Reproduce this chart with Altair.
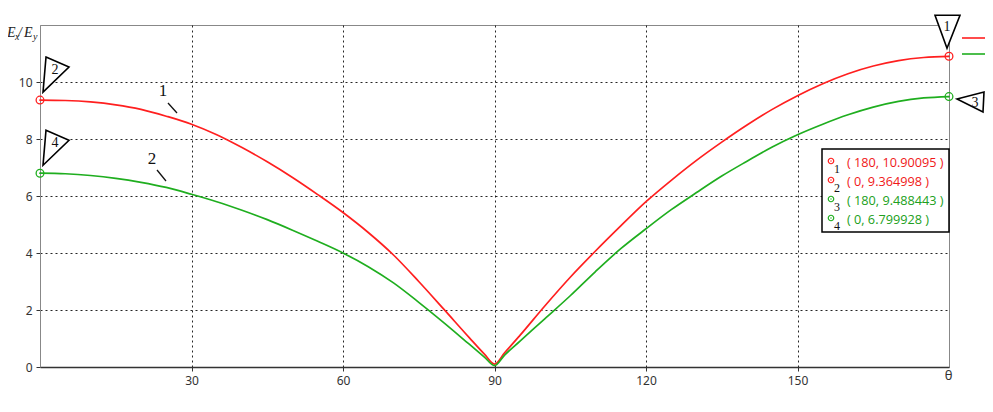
import altair as alt
import pandas as pd

# ---------------- data ----------------
theta_red = [0, 5, 10, 15, 20, 25, 30, 35, 40, 45, 50, 55, 60, 65, 70, 75, 80, 85, 88, 90,
             92, 95, 100, 105, 110, 115, 120, 125, 130, 135, 140, 145, 150, 155, 160, 165, 170, 175, 180]
red = [9.364998, 9.35, 9.30, 9.20, 9.04, 8.80, 8.52, 8.15, 7.70, 7.20, 6.65, 6.05, 5.42, 4.72, 3.93, 3.0, 2.02, 1.03, 0.45, 0.1,
       0.5, 1.1, 2.15, 3.15, 4.07, 4.95, 5.8, 6.55, 7.25, 7.89, 8.49, 9.04, 9.52, 9.94, 10.29, 10.56, 10.75, 10.86, 10.90095]

theta_green = [0, 5, 10, 15, 20, 25, 30, 35, 40, 45, 50, 55, 60, 65, 70, 75, 80, 85, 88, 90,
               92, 95, 100, 105, 110, 115, 120, 125, 130, 135, 140, 145, 150, 155, 160, 165, 170, 175, 180]
green = [6.799928, 6.78, 6.72, 6.62, 6.48, 6.30, 6.06, 5.80, 5.50, 5.17, 4.80, 4.41, 4.0, 3.52, 2.95, 2.27, 1.55, 0.8, 0.35, 0.05,
         0.42, 0.9, 1.7, 2.5, 3.35, 4.15, 4.85, 5.52, 6.12, 6.70, 7.22, 7.72, 8.15, 8.52, 8.85, 9.12, 9.32, 9.44, 9.488443]

series_names = ["1", "2"]
x_ticks = [30, 60, 90, 120, 150]
y_ticks = [0, 2, 4, 6, 8, 10]
box_labels = ["( 180, 10.90095 )", "( 0, 9.364998 )", "( 180, 9.488443 )", "( 0, 6.799928 )"]
box_series = ["1", "1", "2", "2"]
box_numbers = ["1", "2", "3", "4"]

RED = "#ff1f1f"
GREEN = "#1fae1f"
RED_TXT = "#f01818"
GREEN_TXT = "#20a020"

# ---------------- tables ----------------
df_lines = pd.concat([
    pd.DataFrame({"theta": theta_red, "value": red, "series": "1"}),
    pd.DataFrame({"theta": theta_green, "value": green, "series": "2"}),
], ignore_index=True)

df_ends = pd.DataFrame({
    "theta": [theta_red[-1], theta_red[0], theta_green[-1], theta_green[0]],
    "value": [red[-1], red[0], green[-1], green[0]],
    "series": ["1", "1", "2", "2"],
})

color_scale = alt.Scale(domain=series_names, range=[RED, GREEN])

x_enc = alt.X("theta:Q", scale=alt.Scale(domain=[0, 180], nice=False, zero=False),
              axis=alt.Axis(values=x_ticks, grid=True, gridDash=[2, 3], gridColor="#000", gridOpacity=0.85,
                            tickSize=4, tickColor="#333", domainColor="#333", domainWidth=1.5,
                            labelFont="Noto Sans", labelFontSize=12, labelColor="#333", labelPadding=4,
                            title="θ", titleX=908, titleY=8, titleAlign="center", titleBaseline="middle",
                            titleFont="Noto Sans", titleFontSize=13, titleFontWeight="normal", titleColor="#333"))
y_enc = alt.Y("value:Q", scale=alt.Scale(domain=[0, 12], nice=False),
              axis=alt.Axis(values=y_ticks, grid=True, gridDash=[2, 3], gridColor="#000", gridOpacity=0.85,
                            tickSize=4, tickColor="#333", domainColor="#888", domainWidth=1,
                            labelFont="Noto Sans", labelFontSize=12, labelColor="#333", labelPadding=4,
                            title=None))

lines = alt.Chart(df_lines).mark_line(strokeWidth=1.7, interpolate="monotone").encode(
    x=x_enc, y=y_enc,
    color=alt.Color("series:N", scale=color_scale,
                    legend=alt.Legend(orient="none", legendX=928, legendY=7, title=None,
                                      labelExpr="''", labelFontSize=6, padding=0,
                                      symbolType="M -2.4 0 L 2.4 0", symbolSize=100,
                                      symbolStrokeWidth=1.6, rowPadding=6)),
    detail="series:N",
)

ends = alt.Chart(df_ends).mark_point(shape="circle", filled=False, size=60, strokeWidth=1.3, opacity=1).encode(
    x="theta:Q", y="value:Q", color=alt.Color("series:N", scale=color_scale, legend=None))
ends_dot = alt.Chart(df_ends).mark_point(shape="circle", filled=True, size=3, opacity=1).encode(
    x="theta:Q", y="value:Q", color=alt.Color("series:N", scale=color_scale, legend=None))

# flags (triangular callouts anchored at the marked points)
flag_left = "M 6 -43 L 29 -33 L 3 -8 Z"
flag_top = "M -14 -41 L 11 -41 L -2 -8 Z"
flag_right = "M 8 2.5 L 35 -4.5 L 34 15.5 Z"
flag_defs = [
    # (index into df_ends, path, label, dx, dy)
    (0, flag_top, "1", -2, -29),
    (1, flag_left, "2", 15, -30),
    (2, flag_right, "3", 26, 6),
    (3, flag_left, "4", 15, -30),
]
flag_layers = []
for idx, path, lab, dx, dy in flag_defs:
    row = df_ends.iloc[[idx]].assign(label=lab)
    flag_layers.append(
        alt.Chart(row).mark_point(shape=path, size=4, filled=True, fill="white", stroke="black",
                                  strokeWidth=1.6, opacity=1, fillOpacity=1).encode(x="theta:Q", y="value:Q"))
    flag_layers.append(
        alt.Chart(row).mark_text(font="Liberation Serif", fontSize=14, color="#111", dx=dx, dy=dy,
                                 baseline="middle", align="center").encode(x="theta:Q", y="value:Q", text="label:N"))

one = pd.DataFrame({"k": [0]})

def txt(s, x, y, **kw):
    return alt.Chart(one).mark_text(text=s, **kw).encode(x=alt.value(x), y=alt.value(y))

def seg(x1, y1, x2, y2, color="#111", w=1.3):
    return alt.Chart(one).mark_rule(color=color, strokeWidth=w).encode(
        x=alt.value(x1), y=alt.value(y1), x2=alt.value(x2), y2=alt.value(y2))

# y axis title E_x/E_y
ttl_kw = dict(font="Liberation Serif", fontStyle="italic", color="#222", align="left", baseline="alphabetic")
ytitle = [
    txt("E", -33, 12, fontSize=14, **ttl_kw),
    txt("x", -25, 15, fontSize=10, **ttl_kw),
    txt("/", -22, 12, fontSize=14, **ttl_kw),
    txt("E", -16, 12, fontSize=14, **ttl_kw),
    txt("y", -7, 15, fontSize=10, **ttl_kw),
]

# curve labels
curve_lbls = [
    txt("1", 123, 66, font="Liberation Serif", fontSize=17, color="#111", align="center", baseline="middle"),
    seg(128, 78, 137, 88),
    txt("2", 112, 134, font="Liberation Serif", fontSize=17, color="#111", align="center", baseline="middle"),
    seg(117, 145, 126, 156),
]

# value box
box = [alt.Chart(one).mark_rect(fill="white", stroke="black", strokeWidth=1.5).encode(
    x=alt.value(782), x2=alt.value(909), y=alt.value(124), y2=alt.value(207))]
for i, (lab, ser, num) in enumerate(zip(box_labels, box_series, box_numbers)):
    yy = 136 + 19 * i
    col = RED if ser == "1" else GREEN
    tcol = RED_TXT if ser == "1" else GREEN_TXT
    box.append(alt.Chart(one).mark_point(shape="circle", filled=False, size=30, strokeWidth=1.2, color=col,
                                         opacity=1).encode(x=alt.value(791), y=alt.value(yy)))
    box.append(alt.Chart(one).mark_point(shape="circle", filled=True, size=2, color=col,
                                         opacity=1).encode(x=alt.value(791), y=alt.value(yy)))
    box.append(txt(num, 794, yy + 8, font="Liberation Serif", fontSize=12, color="#111", align="left",
                   baseline="middle"))
    box.append(txt(lab, 807, yy + 2, font="Open Sans", fontSize=12.7, color=tcol, align="left", baseline="middle"))

chart = alt.layer(lines, ends, ends_dot, *flag_layers, *ytitle, *curve_lbls, *box).properties(
    width=909, height=342,
    autosize=alt.AutoSizeParams(type="none"),
    padding={"left": 32, "top": 17, "right": 36, "bottom": 45},
).configure_view(stroke="#888", strokeWidth=1)

chart.save("out.html", embed_options={"renderer": "svg", "actions": False})
